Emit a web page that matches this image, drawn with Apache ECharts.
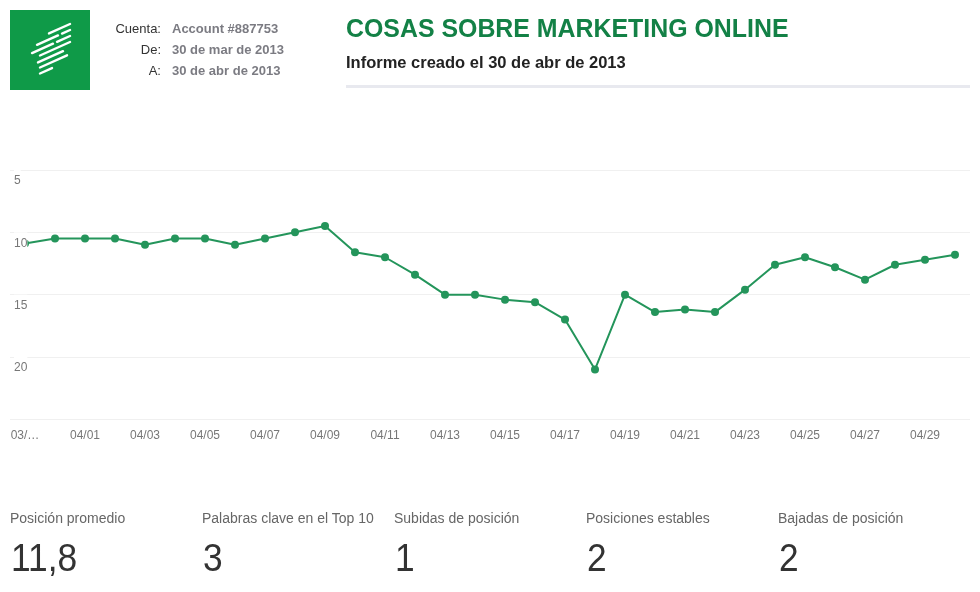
<!DOCTYPE html>
<html>
<head>
<meta charset="utf-8">
<script src="https://cdn.jsdelivr.net/npm/echarts@6/dist/echarts.min.js"></script>
<style>
  html, body { margin:0; padding:0; background:#fff; }
  body { width:980px; height:592px; position:relative; overflow:hidden; font-family:"Liberation Sans", Arial, sans-serif; }
  #chart { position:absolute; left:0; top:0; width:980px; height:592px; }
  .abs { position:absolute; white-space:nowrap; }
  .lbl { color:#333; font-size:13px; text-align:right; width:100px; }
  .val { color:#7b7b82; font-size:13px; font-weight:bold; }
  .statL { color:#666; font-size:14px; }
  .statV { color:#333; font-size:38px; line-height:38px; transform:scaleX(0.93); transform-origin:0 0; }
</style>
</head>
<body>
<div id="chart"></div>

<svg class="abs" style="left:10px;top:10px" width="80" height="80" viewBox="0 0 80 80">
  <rect x="0" y="0" width="80" height="80" fill="#0f9a48"/>
  <g stroke="#fff" stroke-width="2.4" stroke-linecap="round">
    <line x1="39" y1="23.45" x2="60" y2="14"/>
    <line x1="27" y1="34.85" x2="48" y2="25.4"/>
    <line x1="52" y1="23.6" x2="60" y2="20"/>
    <line x1="22" y1="43.1" x2="43" y2="33.65"/>
    <line x1="47" y1="31.85" x2="60" y2="26"/>
    <line x1="30" y1="45.5" x2="60" y2="32"/>
    <line x1="28" y1="52.4" x2="53" y2="41.15"/>
    <line x1="30" y1="57.5" x2="57" y2="45.35"/>
    <line x1="30" y1="63.5" x2="42" y2="58.1"/>
  </g>
</svg>

<div class="abs lbl" style="left:61px;top:21px">Cuenta:</div>
<div class="abs lbl" style="left:61px;top:42px">De:</div>
<div class="abs lbl" style="left:61px;top:63px">A:</div>
<div class="abs val" style="left:172px;top:21px">Account #887753</div>
<div class="abs val" style="left:172px;top:42px">30 de mar de 2013</div>
<div class="abs val" style="left:172px;top:63px">30 de abr de 2013</div>

<div class="abs" style="left:346px;top:14px;color:#138146;font-size:24.9px;font-weight:bold;">COSAS SOBRE MARKETING ONLINE</div>
<div class="abs" style="left:346px;top:53px;color:#222;font-size:16.5px;font-weight:bold;">Informe creado el 30 de abr de 2013</div>
<div class="abs" style="left:346px;top:85px;width:624px;height:3px;background:#e8e9ef;"></div>

<div id="stats"></div>

<script>
// ---- data ----
var dates = ["03/30","03/31","04/01","04/02","04/03","04/04","04/05","04/06","04/07","04/08",
             "04/09","04/10","04/11","04/12","04/13","04/14","04/15","04/16","04/17","04/18",
             "04/19","04/20","04/21","04/22","04/23","04/24","04/25","04/26","04/27","04/28",
             "04/29","04/30"];
var positions = [10.9,10.5,10.5,10.5,11.0,10.5,10.5,11.0,10.5,10.0,
                 9.5,11.6,12.0,13.4,15.0,15.0,15.4,15.6,17.0,21.0,
                 15.0,16.4,16.2,16.4,14.6,12.6,12.0,12.8,13.8,12.6,
                 12.2,11.8];
var yTicks = [5,10,15,20,25];
var statLabels = ["Posición promedio","Palabras clave en el Top 10","Subidas de posición","Posiciones estables","Bajadas de posición"];
var statValues = ["11,8","3","1","2","2"];

// ---- stats ----
var statsEl = document.getElementById('stats');
statLabels.forEach(function(l, i){
  var x = 10 + i*192;
  var a = document.createElement('div');
  a.className = 'abs statL'; a.style.left = x+'px'; a.style.top = '510px'; a.textContent = l;
  var b = document.createElement('div');
  b.className = 'abs statV'; b.style.left = (x+1)+'px'; b.style.top = '539px'; b.textContent = statValues[i];
  statsEl.appendChild(a); statsEl.appendChild(b);
});

// ---- chart ----
var yMin = yTicks[0], yMax = yTicks[yTicks.length-1];
var chart = echarts.init(document.getElementById('chart'), null, {renderer:'canvas'});
chart.setOption({
  animation:false,
  grid:{ left:10, right:10, top:170, height:249.3, containLabel:false },
  xAxis:{
    type:'category', data:dates, boundaryGap:true,
    axisLine:{show:false}, axisTick:{show:false},
    axisLabel:{ interval:1, color:'#777', fontSize:12, margin:10,
      fontFamily:'Liberation Sans, Arial, sans-serif',
      formatter:function(v, i){ return i === 0 ? v.slice(0,3) + '…' : v; } },
    splitLine:{show:false}
  },
  yAxis:[{
    type:'value', inverse:true, min:yMin, max:yMax, interval:5,
    axisLine:{show:false}, axisTick:{show:false}, axisLabel:{show:false},
    splitLine:{ lineStyle:{ color:'#f0f0f0', width:1 } }
  },{
    type:'value', inverse:true, min:yMin, max:yMax, interval:5, position:'left', offset:0,
    zlevel:1, z:10,
    axisLine:{show:false}, axisTick:{show:false}, splitLine:{show:false},
    axisLabel:{ inside:true, margin:4, align:'left', verticalAlign:'top', padding:[5,0,0,0],
      color:'#777', fontSize:12, fontFamily:'Liberation Sans, Arial, sans-serif',
      backgroundColor:'#fff',
      formatter:function(v){ return v === yMax ? '' : String(v); } }
  }],
  series:[{
    type:'line', data:positions, yAxisIndex:0,
    symbol:'circle', symbolSize:8, showSymbol:true,
    lineStyle:{ color:'#24955b', width:2 },
    itemStyle:{ color:'#24955b' }
  }]
});
</script>
</body>
</html>
